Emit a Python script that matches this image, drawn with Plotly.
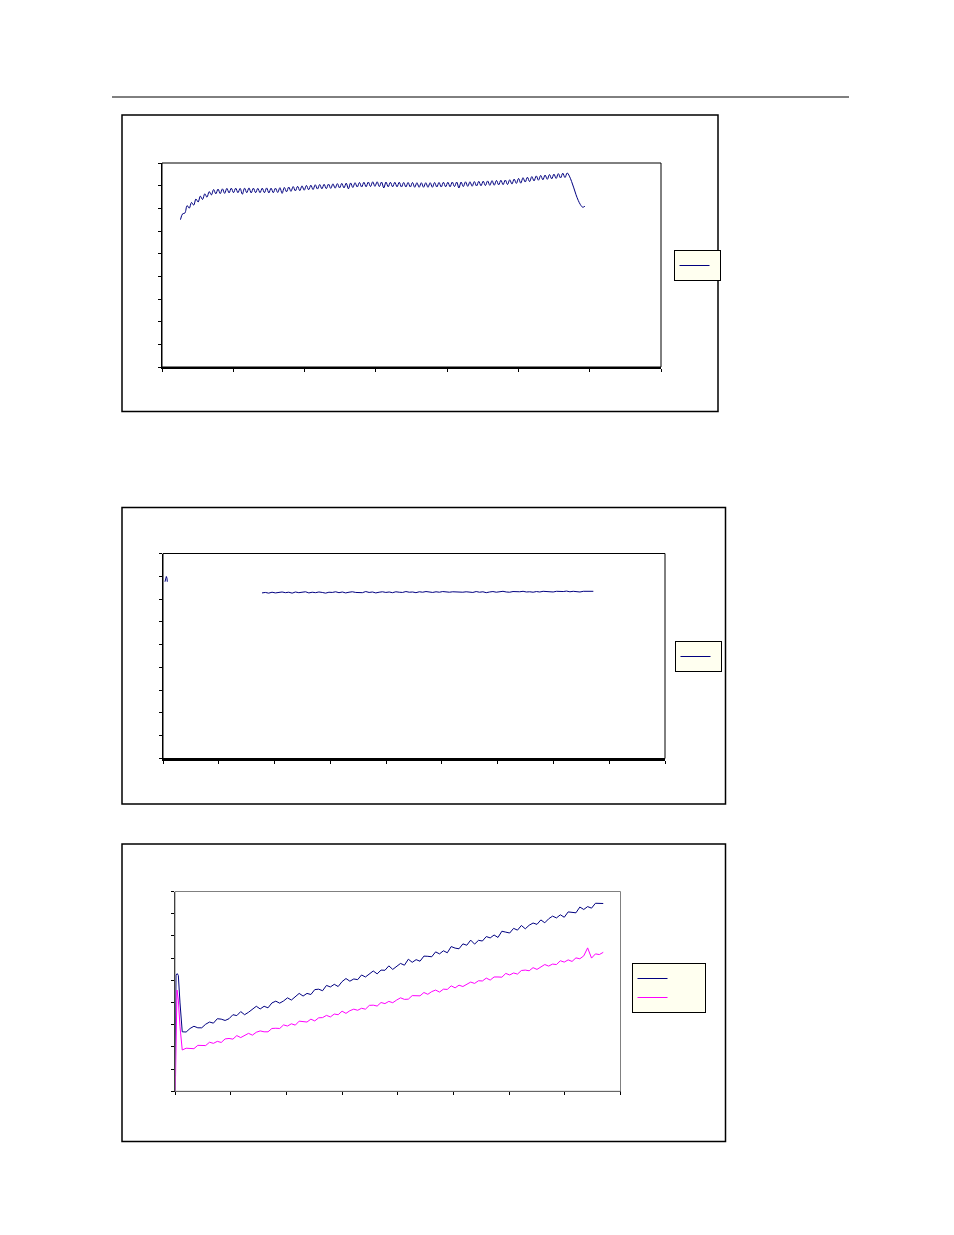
import plotly.graph_objects as go

# ---- chart 1: single rippled trace ----
time1_start = 25.9
time1_step = 3.1
value1 = [
    65.0, 67.6, 67.9, 71.2, 70.1, 72.6, 71.4, 74.1, 72.8, 75.4,
    73.9, 76.4, 74.9, 77.4, 75.9, 78.3, 76.4, 78.5, 76.5, 78.6,
    76.6, 78.8, 76.8, 78.9, 76.9, 78.9, 76.9, 78.8, 76.2, 78.9,
    76.9, 79.0, 76.8, 78.9, 76.9, 78.8, 76.9, 78.9, 76.9, 79.0,
    76.8, 78.9, 76.9, 78.9, 77.0, 79.1, 76.6, 79.2, 77.3, 79.4,
    77.5, 79.6, 77.7, 79.7, 77.8, 79.9, 78.0, 80.1, 78.2, 80.2,
    78.3, 80.4, 78.5, 80.5, 78.6, 80.6, 78.7, 80.7, 78.8, 80.8,
    78.9, 80.9, 79.0, 81.0, 79.0, 81.1, 78.6, 81.2, 79.2, 81.3,
    79.4, 81.4, 79.4, 81.5, 79.5, 81.6, 79.6, 81.7, 79.7, 81.7,
    79.6, 81.6, 79.0, 81.6, 79.5, 81.5, 79.5, 81.5, 79.5, 81.5,
    79.4, 81.4, 79.4, 81.4, 79.4, 81.4, 79.3, 81.3, 79.3, 81.3,
    79.3, 81.3, 79.3, 81.3, 79.3, 81.4, 79.4, 81.4, 79.4, 81.5,
    79.5, 81.5, 79.5, 81.6, 79.6, 81.6, 79.0, 81.6, 79.6, 81.7,
    79.7, 81.7, 79.75, 81.8, 79.85, 81.9, 79.95, 82.0, 80.05, 82.1,
    80.15, 82.2, 80.2, 82.3, 80.35, 82.4, 80.45, 82.5, 80.5, 82.6,
    80.7, 82.9, 81.0, 83.2, 81.1, 83.5, 81.6, 83.7, 81.8, 84.0,
    82.1, 84.3, 82.4, 84.5, 82.6, 84.7, 82.8, 84.9, 83.0, 85.1,
    83.2, 85.3, 83.4, 85.5, 83.6, 85.6, 84.2, 81.8, 79.0, 76.0,
    73.5, 71.6, 70.5, 70.9,
]
time1 = [time1_start + time1_step * i for i in range(len(value1))]

# ---- chart 2: short blip at the start, then a flat noisy run ----
time2_blip = [3.6, 4.8, 6.0, 7.2, 7.7]
value2_blip = [77.6, 79.8, 79.9, 79.1, 77.6]
time2_start = 177.5
time2_step = 6.0
value2 = [
    72.7, 72.9, 72.6, 73.0, 72.7, 72.9, 73.1, 72.8, 73.0, 72.6,
    73.1, 72.8, 72.9, 73.2, 72.7, 73.0, 72.8, 73.1, 72.9, 72.6,
    73.0, 72.9, 73.2, 72.8, 73.1, 72.7, 73.0, 73.2, 72.9, 73.0,
    72.8, 73.3, 72.9, 73.1, 72.7, 73.0, 73.2, 72.9, 73.1, 72.8,
    73.2, 73.0, 72.9, 73.3, 73.0, 73.1, 72.8, 73.2, 73.0, 73.3,
    73.1, 72.9, 73.2, 73.0, 73.3, 73.1, 73.0, 73.2, 73.1, 73.3,
    73.0, 73.2, 73.1, 72.9, 73.3, 73.0, 73.2, 72.8, 73.1, 73.3,
    73.0, 73.2, 73.4, 73.1, 73.0, 73.3, 73.1, 73.2, 73.4, 73.1,
    73.2, 73.0, 73.3, 73.1, 73.4, 73.2, 73.3, 73.1, 73.4, 73.2,
    73.3, 73.5, 73.2, 73.4, 73.3, 73.1, 73.4, 73.3, 73.2, 73.4,
]
time2 = time2_blip + [None] + [time2_start + time2_step * i for i in range(len(value2))]
series2 = value2_blip + [None] + value2

# ---- chart 3: two rising noisy traces ----
time3_head = [0, 1.8, 4, 6, 9]
navy3_head = [0, 52.4, 53.0, 52.2, 39.8]
time3_head_m = [0, 1, 3.6, 6, 9]
magenta3_head = [0, 7.0, 45.6, 41.1, 29.1]
time3_start = 13
time3_step = 7
navy3 = [
    26.8, 26.7, 28.3, 29.3, 28.6, 28.6, 30.2, 31.2, 30.7, 32.7,
    32.5, 31.9, 32.7, 34.5, 34.1, 35.9, 34.5, 35.6, 37.0, 38.3,
    37.1, 38.3, 37.6, 39.8, 40.6, 39.7, 40.7, 42.1, 41.1, 42.7,
    44.1, 42.9, 44.1, 43.6, 45.8, 46.0, 45.3, 47.7, 47.0, 48.2,
    47.2, 49.4, 50.8, 49.6, 50.6, 50.3, 52.4, 51.5, 52.9, 54.2,
    52.9, 54.6, 54.5, 56.5, 54.9, 56.4, 57.6, 56.8, 59.5, 58.1,
    59.3, 58.6, 60.9, 60.8, 60.6, 62.8, 61.9, 63.3, 62.4, 65.2,
    64.5, 64.2, 66.4, 65.8, 68.1, 66.3, 68.0, 67.7, 69.7, 69.1,
    70.4, 69.3, 72.1, 71.7, 71.3, 73.4, 72.6, 74.7, 73.2, 74.8,
    75.8, 75.2, 77.2, 75.9, 77.7, 78.9, 78.1, 79.5, 78.4, 80.8,
    80.7, 80.4, 83.0, 81.9, 83.2, 82.5, 84.7, 84.7, 84.6,
]
magenta3 = [
    18.6, 19.4, 19.2, 19.2, 20.7, 20.7, 20.6, 22.1, 21.6, 22.5,
    22.0, 23.6, 23.8, 23.5, 25.1, 24.2, 25.1, 26.1, 25.3, 26.6,
    27.2, 26.8, 26.8, 28.3, 28.4, 28.3, 29.9, 29.4, 30.4, 29.8,
    31.6, 31.4, 31.2, 32.5, 31.7, 33.1, 33.2, 34.2, 33.5, 34.8,
    34.5, 36.1, 35.1, 36.3, 37.0, 36.5, 37.4, 37.0, 38.7, 38.8,
    38.4, 40.0, 39.5, 40.5, 39.9, 41.1, 42.1, 41.4, 41.5, 43.1,
    43.1, 43.0, 44.5, 43.7, 44.9, 45.6, 44.7, 46.0, 45.9, 47.5,
    46.6, 47.8, 47.2, 48.3, 49.2, 48.6, 49.8, 49.7, 51.0, 50.1,
    51.5, 51.5, 51.4, 53.1, 52.4, 53.3, 52.8, 54.4, 54.6, 54.3,
    55.7, 54.9, 56.2, 57.1, 56.4, 57.3, 57.1, 58.8, 58.2, 59.2,
    58.5, 60.1, 59.7, 61.0, 64.6, 60.0, 61.9, 61.6, 62.6,
]
time3_body = [time3_start + time3_step * i for i in range(len(navy3))]

# the page body adds an 8 px margin round the figure
OFF = 8
W, H = 954 - 2 * OFF, 1235 - 2 * OFF
NAVY = "#000080"
MAGENTA = "#FF00FF"


def px_x(p):
    return (p - OFF) / W


def px_y(p):
    return 1 - (p - OFF) / H


fig = go.Figure()

fig.add_trace(go.Scatter(x=time1, y=value1, mode="lines", name="",
                         line=dict(color=NAVY, width=1, shape="spline"),
                         xaxis="x", yaxis="y", legend="legend"))
fig.add_trace(go.Scatter(x=time2, y=series2, mode="lines", name="",
                         line=dict(color=NAVY, width=1), connectgaps=False,
                         xaxis="x2", yaxis="y2", legend="legend2"))
fig.add_trace(go.Scatter(x=time3_head + time3_body, y=navy3_head + navy3, mode="lines",
                         name="\u00a0" * 19, line=dict(color=NAVY, width=1),
                         xaxis="x3", yaxis="y3", legend="legend3"))
fig.add_trace(go.Scatter(x=time3_head_m + time3_body, y=magenta3_head + magenta3, mode="lines",
                         name="\u00a0" * 19, line=dict(color=MAGENTA, width=1),
                         xaxis="x3", yaxis="y3", legend="legend3"))


def axis(dom, rng, dtick, anchor, width):
    return dict(domain=dom, range=rng, dtick=dtick, tick0=0, anchor=anchor,
                showticklabels=False, showgrid=False, zeroline=False,
                showline=True, linecolor="black", linewidth=width,
                ticks="outside", ticklen=3, tickcolor="black", tickwidth=1)


def inner_ticks(base, rng, dtick, anchor, side):
    # second axis on the same spot, so the tick marks cross the axis line
    return dict(overlaying=base, range=rng, dtick=dtick, tick0=0, anchor=anchor, side=side,
                showticklabels=False, showgrid=False, zeroline=False, showline=False,
                ticks="inside", ticklen=3, tickcolor="black", tickwidth=1)


# plot areas in page pixels
areas = [
    (162, 661, 163, 367),
    (163, 665, 553.5, 758.5),
    (175, 620.5, 891.5, 1091.3),
]
xr = [[0, 700], [0, 900], [0, 800]]
yr = [[0, 90], [0, 90], [0, 90]]
xw = [2, 2, 1]

layout = dict(width=W, height=H, autosize=False, showlegend=True,
              margin=dict(l=0, r=0, t=0, b=0),
              paper_bgcolor="white", plot_bgcolor="white",
              font=dict(family="Liberation Sans, Arial", size=9, color="black"))
for i, (x0, x1, y0, y1) in enumerate(areas):
    sfx = "" if i == 0 else str(i + 1)
    layout["xaxis" + sfx] = axis([px_x(x0), px_x(x1)], xr[i], 100, "y" + sfx, xw[i])
    layout["yaxis" + sfx] = axis([px_y(y1), px_y(y0)], yr[i], 10, "x" + sfx, 1)
    layout["xaxis" + str(i + 4)] = inner_ticks("x" + sfx, xr[i], 100, "y" + sfx, "bottom")
    layout["yaxis" + str(i + 4)] = inner_ticks("y" + sfx, yr[i], 10, "x" + sfx, "left")

leg = dict(bgcolor="#FFFFF0", bordercolor="black", borderwidth=1,
           xanchor="left", yanchor="top", font=dict(size=5),
           tracegroupgap=0, itemwidth=30)
layout["legend"] = dict(leg, x=px_x(673.5), y=px_y(250))
layout["legend2"] = dict(leg, x=px_x(674.5), y=px_y(641))
layout["legend3"] = dict(leg, x=px_x(631.5), y=px_y(963))
fig.update_layout(**layout)

# chart frames, plot-area borders and the page rule
frames = [(122, 718, 115, 411.5), (122, 725.5, 507.5, 804), (122, 725.5, 844, 1141.5)]
for (x0, x1, y0, y1) in frames:
    fig.add_shape(type="rect", xref="paper", yref="paper",
                  x0=px_x(x0), x1=px_x(x1), y0=px_y(y1), y1=px_y(y0),
                  line=dict(color="black", width=1.5), layer="below")
border_col = ["black", "black", "#808080"]
for i in range(3):
    sfx = "" if i == 0 else str(i + 1)
    fig.add_shape(type="rect", xref="x" + sfx + " domain", yref="y" + sfx + " domain",
                  x0=0, x1=1, y0=0, y1=1, line=dict(color=border_col[i], width=1))
fig.add_shape(type="line", xref="paper", yref="paper",
              x0=px_x(112), x1=px_x(849), y0=px_y(97), y1=px_y(97),
              line=dict(color="black", width=1))

fig.write_html("out.html")
